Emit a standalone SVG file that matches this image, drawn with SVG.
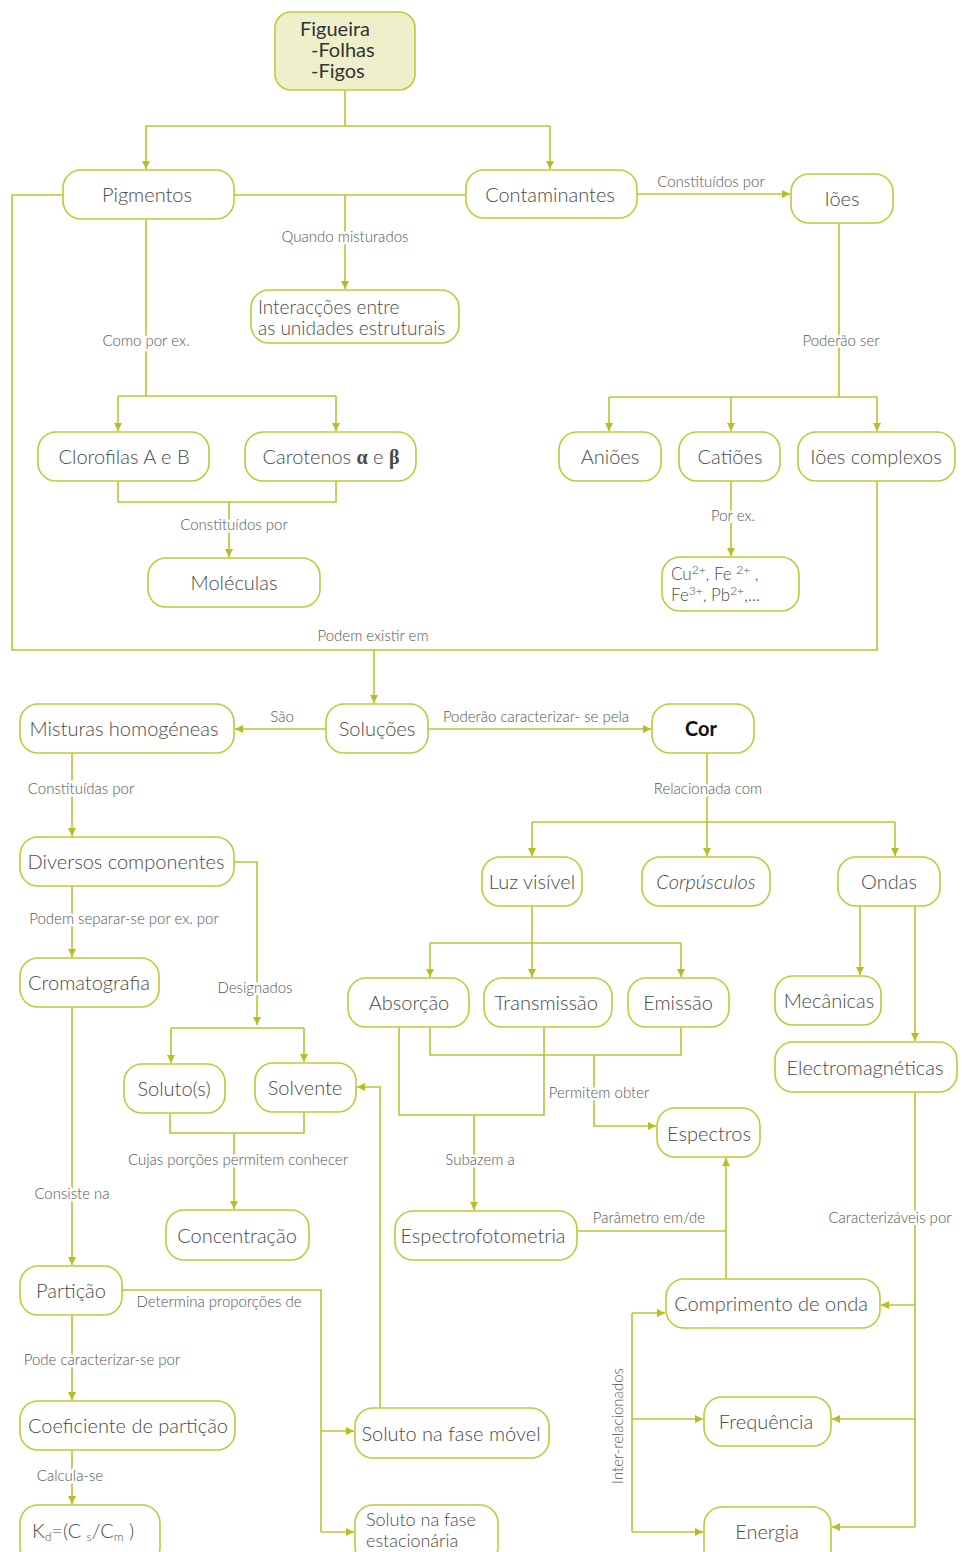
<svg xmlns="http://www.w3.org/2000/svg" width="962" height="1552" viewBox="0 0 962 1552">
<defs>
<marker id="ah" viewBox="0 0 10 10" refX="10" refY="5" markerWidth="8" markerHeight="8" markerUnits="userSpaceOnUse" orient="auto">
<path d="M0,0 L10,5 L0,10 z" fill="#b5bf1f"/>
</marker>
<style>
.n{fill:#fff;stroke:#c2c936;stroke-width:1.6}
.t{font-family:Lato,"Liberation Sans",sans-serif;font-weight:300;font-size:20px;fill:#4a4a4a;text-anchor:middle}
.tl{font-family:Lato,"Liberation Sans",sans-serif;font-weight:300;font-size:20px;fill:#4a4a4a}
.c path,.c line,.c polyline{fill:none;stroke:#bcc530;stroke-width:1.6}
.a{marker-end:url(#ah)}
.l{font-family:Lato,"Liberation Sans",sans-serif;font-weight:300;font-size:15px;fill:#555;text-anchor:middle;paint-order:stroke;stroke:#fff;stroke-width:5px;stroke-linejoin:round}
</style>
</defs>
<rect width="962" height="1552" fill="#fff"/>

<g id="connectors" class="c">
<polyline points="345,90 345,126"/>
<polyline class="a" points="146,126 146,169"/>
<polyline points="146,126 550,126"/>
<polyline class="a" points="550,126 550,169"/>
<polyline points="234,195 466,195"/>
<polyline class="a" points="345,195 345,289"/>
<polyline class="a" points="637,194 790,194"/>
<polyline points="839,223 839,397"/>
<polyline points="609,397 877,397"/>
<polyline class="a" points="609,397 609,431"/>
<polyline class="a" points="731,397 731,431"/>
<polyline class="a" points="877,397 877,431"/>
<polyline points="146,219 146,396"/>
<polyline points="118,396 336,396"/>
<polyline class="a" points="118,396 118,431"/>
<polyline class="a" points="336,396 336,431"/>
<polyline points="118,481 118,502 336,502 336,481"/>
<polyline class="a" points="229,502 229,557"/>
<polyline points="63,195 12,195 12,650 877,650 877,481"/>
<polyline class="a" points="374,650 374,703"/>
<polyline class="a" points="731,481 731,556"/>
<polyline class="a" points="326,729 235,729"/>
<polyline class="a" points="428,729 651,729"/>
<polyline class="a" points="72,753 72,836"/>
<polyline points="707,753 707,822"/>
<polyline points="532,822 895,822"/>
<polyline class="a" points="532,822 532,856"/>
<polyline class="a" points="707,822 707,856"/>
<polyline class="a" points="895,822 895,856"/>
<polyline class="a" points="72,886 72,957"/>
<polyline class="a" points="234,862 257,862 257,1025"/>
<polyline points="171,1028 304,1028"/>
<polyline class="a" points="171,1028 171,1063"/>
<polyline class="a" points="304,1028 304,1062"/>
<polyline points="170,1113 170,1133 304,1133 304,1112"/>
<polyline class="a" points="234,1133 234,1209"/>
<polyline points="532,906 532,943"/>
<polyline points="430,943 681,943"/>
<polyline class="a" points="430,943 430,977"/>
<polyline class="a" points="532,943 532,977"/>
<polyline class="a" points="681,943 681,977"/>
<polyline points="430,1027 430,1055 681,1055 681,1027"/>
<polyline class="a" points="594,1055 594,1126 656,1126"/>
<polyline points="399,1027 399,1115 544,1115 544,1027"/>
<polyline class="a" points="474,1115 474,1210"/>
<polyline points="577,1231 726,1231"/>
<polyline class="a" points="726,1279 726,1158"/>
<polyline class="a" points="860,906 860,975"/>
<polyline class="a" points="915,906 915,1041"/>
<polyline points="915,1092 915,1527"/>
<polyline class="a" points="915,1305 881,1305"/>
<polyline class="a" points="915,1419 832,1419"/>
<polyline class="a" points="915,1527 832,1527"/>
<polyline points="632,1313 632,1532"/>
<polyline class="a" points="632,1313 665,1313"/>
<polyline class="a" points="632,1419 703,1419"/>
<polyline class="a" points="632,1532 703,1532"/>
<polyline class="a" points="72,1007 72,1265"/>
<polyline points="122,1290 321,1290 321,1532"/>
<polyline class="a" points="321,1431 354,1431"/>
<polyline class="a" points="321,1532 354,1532"/>
<polyline class="a" points="380,1408 380,1087 357,1087"/>
<polyline class="a" points="72,1315 72,1400"/>
<polyline class="a" points="72,1450 72,1504"/>
</g>

<g id="labels">
<text class="l" x="345" y="242">Quando misturados</text>
<text class="l" x="711" y="187">Constituídos por</text>
<text class="l" x="841" y="346">Poderão ser</text>
<text class="l" x="146" y="346">Como por ex.</text>
<text class="l" x="234" y="530">Constituídos por</text>
<text class="l" x="373" y="641">Podem existir em</text>
<text class="l" x="733" y="521">Por ex.</text>
<text class="l" x="282" y="722">São</text>
<text class="l" x="536" y="722">Poderão caracterizar- se pela</text>
<text class="l" x="81" y="794">Constituídas por</text>
<text class="l" x="708" y="794">Relacionada com</text>
<text class="l" x="124" y="924">Podem separar-se por ex. por</text>
<text class="l" x="255" y="993">Designados</text>
<text class="l" x="238" y="1165">Cujas porções permitem conhecer</text>
<text class="l" x="599" y="1098">Permitem obter</text>
<text class="l" x="480" y="1165">Subazem a</text>
<text class="l" x="649" y="1223">Parâmetro em/de</text>
<text class="l" x="890" y="1223">Caracterizáveis por</text>
<text class="l" x="72" y="1199">Consiste na</text>
<text class="l" x="219" y="1307">Determina proporções de</text>
<text class="l" x="102" y="1365">Pode caracterizar-se por</text>
<text class="l" x="70" y="1481">Calcula-se</text>
<text class="l" x="0" y="0" transform="translate(623,1426) rotate(-90)">Inter-relacionados</text>
</g>

<g id="n-figueira"><rect x="275" y="12" width="140" height="78" rx="16" fill="#eef0cc" stroke="#c2c936" stroke-width="1.6"/>
<text class="tl" x="300" y="36" style="fill:#333;font-weight:400">Figueira<tspan x="311" dy="21">-Folhas</tspan><tspan x="311" dy="21">-Figos</tspan></text></g>
<g id="n-pigmentos"><rect class="n" x="63" y="170" width="171" height="49" rx="18"/><text class="t" x="147" y="202">Pigmentos</text></g>
<g id="n-contaminantes"><rect class="n" x="466" y="170" width="171" height="48" rx="18"/><text class="t" x="550" y="202">Contaminantes</text></g>
<g id="n-ioes"><rect class="n" x="791" y="174" width="102" height="49" rx="18"/><text class="t" x="842" y="206">Iões</text></g>
<g id="n-interaccoes"><rect class="n" x="251" y="290" width="208" height="53" rx="18"/><text class="tl" x="258" y="314" style="font-size:19px">Interacções entre<tspan x="258" dy="21">as unidades estruturais</tspan></text></g>
<g id="n-clorofilas"><rect class="n" x="38" y="432" width="171" height="49" rx="18"/><text class="t" x="124" y="464">Clorofilas A e B</text></g>
<g id="n-carotenos"><rect class="n" x="245" y="432" width="171" height="49" rx="18"/><text class="t" x="331" y="464">Carotenos <tspan style="font-weight:700;font-family:'Liberation Serif',serif">α</tspan> e <tspan style="font-weight:700;font-family:'Liberation Serif',serif">β</tspan></text></g>
<g id="n-moleculas"><rect class="n" x="148" y="558" width="172" height="49" rx="18"/><text class="t" x="234" y="590">Moléculas</text></g>
<g id="n-anioes"><rect class="n" x="559" y="432" width="102" height="49" rx="18"/><text class="t" x="610" y="464">Aniões</text></g>
<g id="n-catioes"><rect class="n" x="679" y="432" width="101" height="49" rx="18"/><text class="t" x="730" y="464">Catiões</text></g>
<g id="n-ioes-complexos"><rect class="n" x="798" y="432" width="157" height="49" rx="18"/><text class="t" x="876" y="464">Iões complexos</text></g>
<g id="n-cations-ex"><rect class="n" x="662" y="557" width="137" height="54" rx="18"/>
<text class="tl" x="671" y="580" style="font-size:17px">Cu<tspan dy="-6" style="font-size:12px">2+</tspan><tspan dy="6">, Fe </tspan><tspan dy="-6" style="font-size:12px">2+</tspan><tspan dy="6"> ,</tspan><tspan x="671" dy="21">Fe</tspan><tspan dy="-6" style="font-size:12px">3+</tspan><tspan dy="6">, Pb</tspan><tspan dy="-6" style="font-size:12px">2+</tspan><tspan dy="6">,...</tspan></text></g>
<g id="n-solucoes"><rect class="n" x="326" y="704" width="102" height="49" rx="18"/><text class="t" x="377" y="736">Soluções</text></g>
<g id="n-misturas"><rect class="n" x="20" y="704" width="214" height="49" rx="18"/><text class="t" x="124" y="736">Misturas homogéneas</text></g>
<g id="n-cor"><rect class="n" x="652" y="704" width="102" height="49" rx="18"/><text class="t" x="701" y="736" style="fill:#111;font-weight:700">Cor</text></g>
<g id="n-diversos"><rect class="n" x="20" y="837" width="214" height="49" rx="18"/><text class="t" x="126" y="869">Diversos componentes</text></g>
<g id="n-cromatografia"><rect class="n" x="20" y="958" width="139" height="49" rx="18"/><text class="t" x="89" y="990">Cromatografia</text></g>
<g id="n-luz"><rect class="n" x="482" y="857" width="100" height="49" rx="18"/><text class="t" x="532" y="889">Luz visível</text></g>
<g id="n-corpusculos"><rect class="n" x="642" y="857" width="128" height="49" rx="18"/><text class="t" x="706" y="889" style="font-style:italic">Corpúsculos</text></g>
<g id="n-ondas"><rect class="n" x="838" y="857" width="102" height="49" rx="18"/><text class="t" x="889" y="889">Ondas</text></g>
<g id="n-absorcao"><rect class="n" x="348" y="978" width="121" height="49" rx="18"/><text class="t" x="409" y="1010">Absorção</text></g>
<g id="n-transmissao"><rect class="n" x="484" y="978" width="128" height="49" rx="18"/><text class="t" x="546" y="1010">Transmissão</text></g>
<g id="n-emissao"><rect class="n" x="628" y="978" width="101" height="49" rx="18"/><text class="t" x="678" y="1010">Emissão</text></g>
<g id="n-mecanicas"><rect class="n" x="775" y="976" width="106" height="49" rx="18"/><text class="t" x="829" y="1008">Mecânicas</text></g>
<g id="n-electromagneticas"><rect class="n" x="775" y="1042" width="182" height="50" rx="18"/><text class="t" x="865" y="1075">Electromagnéticas</text></g>
<g id="n-solutos"><rect class="n" x="124" y="1064" width="101" height="49" rx="18"/><text class="t" x="174" y="1096">Soluto(s)</text></g>
<g id="n-solvente"><rect class="n" x="255" y="1063" width="101" height="49" rx="18"/><text class="t" x="305" y="1095">Solvente</text></g>
<g id="n-espectros"><rect class="n" x="657" y="1108" width="103" height="49" rx="18"/><text class="t" x="709" y="1141">Espectros</text></g>
<g id="n-concentracao"><rect class="n" x="166" y="1210" width="143" height="50" rx="18"/><text class="t" x="237" y="1243">Concentração</text></g>
<g id="n-espectrofotometria"><rect class="n" x="395" y="1211" width="182" height="49" rx="18"/><text class="t" x="483" y="1243">Espectrofotometria</text></g>
<g id="n-particao"><rect class="n" x="20" y="1266" width="102" height="49" rx="18"/><text class="t" x="71" y="1298">Partição</text></g>
<g id="n-comprimento"><rect class="n" x="666" y="1279" width="214" height="49" rx="18"/><text class="t" x="771" y="1311">Comprimento de onda</text></g>
<g id="n-coeficiente"><rect class="n" x="20" y="1401" width="215" height="49" rx="18"/><text class="t" x="128" y="1433">Coeficiente de partição</text></g>
<g id="n-soluto-movel"><rect class="n" x="355" y="1408" width="194" height="50" rx="18"/><text class="t" x="451" y="1441">Soluto na fase móvel</text></g>
<g id="n-frequencia"><rect class="n" x="704" y="1397" width="127" height="49" rx="18"/><text class="t" x="766" y="1429">Frequência</text></g>
<g id="n-kd"><rect class="n" x="20" y="1505" width="140" height="60" rx="18"/>
<text class="tl" x="32" y="1538">K<tspan dy="3" style="font-size:12px">d</tspan><tspan dy="-3">=(C </tspan><tspan dy="3" style="font-size:12px">s</tspan><tspan dy="-3">/C</tspan><tspan dy="3" style="font-size:12px">m</tspan><tspan dy="-3"> )</tspan></text></g>
<g id="n-soluto-estacionaria"><rect class="n" x="355" y="1505" width="143" height="60" rx="18"/><text class="tl" x="366" y="1526" style="font-size:18px">Soluto na fase<tspan x="366" dy="21">estacionária</tspan></text></g>
<g id="n-energia"><rect class="n" x="704" y="1507" width="127" height="60" rx="18"/><text class="t" x="767" y="1539">Energia</text></g>
</svg>
